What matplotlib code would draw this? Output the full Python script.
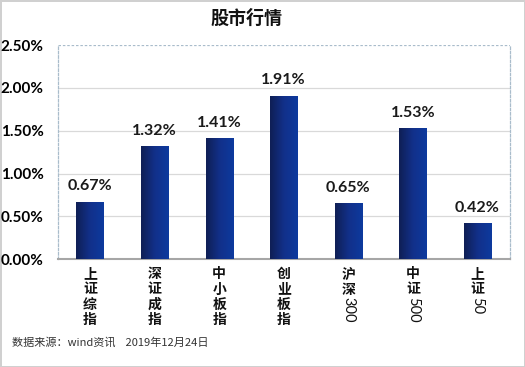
import matplotlib
matplotlib.use("Agg")
import matplotlib.pyplot as plt
import numpy as np
from matplotlib.colors import LinearSegmentedColormap

plt.rcParams['font.family'] = ['Noto Sans CJK SC', 'DejaVu Sans']

categories = ["上证综指", "深证成指", "中小板指", "创业板指", "沪深300", "中证500", "上证50"]
values = [0.67, 1.32, 1.41, 1.91, 0.65, 1.53, 0.42]
yticks = [0.0, 0.5, 1.0, 1.5, 2.0, 2.5]
title = "股市行情"
footer = "数据来源：wind资讯    2019年12月24日"

fig = plt.figure(figsize=(5.25, 3.67), dpi=100)
fig.patch.set_facecolor('white')
fig.patch.set_edgecolor('#d0d0d0')
fig.patch.set_linewidth(2)
ax = fig.add_axes([0.110, 0.294, 0.861, 0.583])

x = np.arange(len(categories))
bars = ax.bar(x, values, width=0.42, color='#10287a', zorder=3)

cmap = LinearSegmentedColormap.from_list('g', ['#0f1f55', '#12308a', '#0d3a9e'])
grad = np.linspace(0, 1, 64).reshape(1, -1)
for b in bars:
    x0, w, h = b.get_x(), b.get_width(), b.get_height()
    im = ax.imshow(grad, cmap=cmap, extent=[x0, x0 + w, 0, h], aspect='auto', zorder=4)
    im.set_clip_path(b)
    b.set_facecolor('none')

ax.set_xlim(-0.5, len(categories) - 0.5)
ax.set_ylim(0, 2.5)
ax.set_yticks(yticks)
ax.set_yticklabels([f"{t:.2f}%" for t in yticks], fontsize=11, fontweight='bold', family=['Lato', 'DejaVu Sans'])
ax.tick_params(axis='y', length=0, pad=10)
ax.tick_params(axis='x', length=0)
ax.set_xticks([])

for t in yticks[1:-1]:
    ax.axhline(t, color='#d9d9d9', lw=0.9, zorder=1)
ax.axhline(2.5, color='#a9bccb', lw=0.9, ls=(0, (2, 1.5)), zorder=1)
for s in ['left', 'right']:
    ax.spines[s].set_color('#a9bccb')
    ax.spines[s].set_linestyle((0, (2, 1.5)))
    ax.spines[s].set_linewidth(0.9)
ax.spines['top'].set_visible(False)
ax.spines['bottom'].set_color('#a6a6a6')
ax.spines['bottom'].set_linewidth(1.5)

for b, v in zip(bars, values):
    ax.annotate(f"{v:.2f}%", xy=(b.get_x() + b.get_width() / 2, v), xytext=(0, 6),
                textcoords='offset points', ha='center', va='bottom',
                fontsize=11.5, fontweight='bold', family=['Lato', 'DejaVu Sans'], color='#1a1a1a')

line_pt = 11.0
for i, cat in enumerate(categories):
    cjk = ''.join(c for c in cat if not c.isascii())
    asc = ''.join(c for c in cat if c.isascii())
    ax.annotate('\n'.join(cjk), xy=(i, 0), xycoords=('data', 'axes fraction'),
                xytext=(0, -6), textcoords='offset points', ha='center', va='top',
                fontsize=10, fontweight='bold', linespacing=1.1, color='#111111')
    if asc:
        ax.annotate(asc, xy=(i, 0), xycoords=('data', 'axes fraction'),
                    xytext=(0, -6 - len(cjk) * line_pt + 1), textcoords='offset points',
                    ha='center', va='top', rotation=-90,
                    fontsize=10.5, color='#111111', family=['Lato', 'DejaVu Sans'])

fig.text(0.469, 0.951, title, ha='center', va='center', fontsize=13, fontweight='bold', color='#111111')
fig.text(0.022, 0.066, footer, ha='left', va='center', fontsize=8, color='#333333')

fig.savefig('out.png', dpi=100)
